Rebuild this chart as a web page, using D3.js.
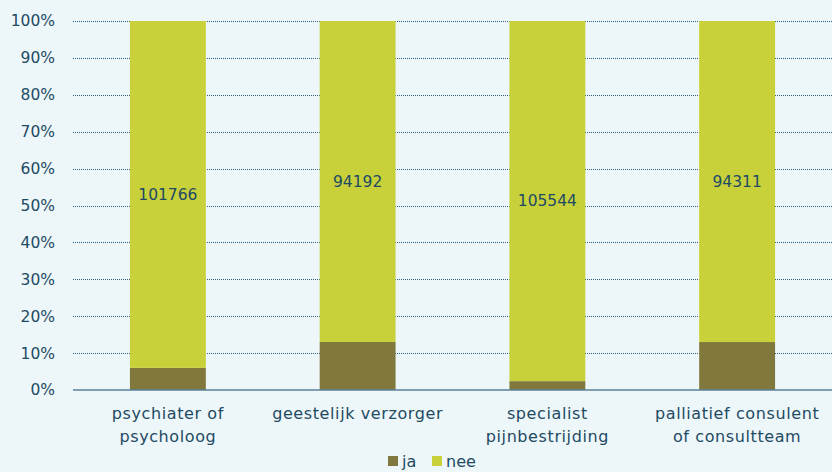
<!DOCTYPE html>
<html>
<head>
<meta charset="utf-8">
<script src="https://cdn.jsdelivr.net/npm/d3@7"></script>
<style>
  body { margin: 0; background: #edf7f9; }
  svg { display: block; font-family: 'DejaVu Sans', sans-serif; }
</style>
</head>
<body>
<svg id="chart"></svg>
<script>
const categories = ['psychiater of\npsycholoog', 'geestelijk verzorger', 'specialist\npijnbestrijding', 'palliatief consulent\nof consultteam'];
const ja = [6500, 14080, 2600, 14090];
const nee = [101766, 94192, 105544, 94311];
const yTicks = [0, 0.1, 0.2, 0.3, 0.4, 0.5, 0.6, 0.7, 0.8, 0.9, 1];
const seriesNames = ['ja', 'nee'];

const width = 832;
const height = 472;
const margin = { top: 21, right: 0, bottom: 82, left: 73 };
const textColor = '#1e4a63';
const color = d3.scaleOrdinal(seriesNames, ['#80783c', '#c8d13a']);

const rows = categories.map((c, i) => {
  const total = ja[i] + nee[i];
  return { cat: c, ja: ja[i] / total, nee: nee[i] / total, neeCount: nee[i] };
});

const stack = d3.stack().keys(seriesNames);
const series = stack(rows);

const x = d3.scaleBand()
  .domain(categories)
  .range([margin.left, width - margin.right])
  .paddingInner(0.6)
  .paddingOuter(0.3);

const y = d3.scaleLinear()
  .domain([0, 1])
  .range([height - margin.bottom, margin.top]);

const svg = d3.select('#chart')
  .attr('width', width)
  .attr('height', height);

// gridlines
svg.append('g')
  .selectAll('line')
  .data(yTicks.filter(d => d > 0))
  .join('line')
  .attr('x1', margin.left)
  .attr('x2', width - margin.right)
  .attr('y1', d => Math.round(y(d)) + 0.5)
  .attr('y2', d => Math.round(y(d)) + 0.5)
  .attr('stroke', '#2f5f80')
  .attr('stroke-width', 1)
  .attr('stroke-dasharray', '1,1');

// y axis labels
svg.append('g')
  .attr('font-size', 15.5)
  .attr('fill', textColor)
  .attr('text-anchor', 'end')
  .selectAll('text')
  .data(yTicks)
  .join('text')
  .attr('x', 55)
  .attr('y', d => y(d))
  .attr('dy', '0.35em')
  .text(d3.format('.0%'));

// bars
svg.append('g')
  .selectAll('g')
  .data(series)
  .join('g')
  .attr('fill', d => color(d.key))
  .selectAll('rect')
  .data(d => d)
  .join('rect')
  .attr('x', d => x(d.data.cat))
  .attr('width', x.bandwidth())
  .attr('y', d => y(d[1]))
  .attr('height', d => y(d[0]) - y(d[1]));

// baseline
svg.append('line')
  .attr('x1', margin.left)
  .attr('x2', width - margin.right)
  .attr('y1', y(0))
  .attr('y2', y(0))
  .attr('stroke', '#5b8196')
  .attr('stroke-width', 1.5);

// value labels (nee)
svg.append('g')
  .attr('font-size', 15.5)
  .attr('fill', textColor)
  .attr('text-anchor', 'middle')
  .selectAll('text')
  .data(series[1])
  .join('text')
  .attr('x', d => x(d.data.cat) + x.bandwidth() / 2)
  .attr('y', d => (y(d[0]) + y(d[1])) / 2)
  .attr('dy', '0.35em')
  .text(d => d.data.neeCount);

// category labels
svg.append('g')
  .attr('font-size', 16)
  .attr('letter-spacing', 0.6)
  .attr('fill', textColor)
  .attr('text-anchor', 'middle')
  .selectAll('text')
  .data(categories)
  .join('text')
  .attr('x', d => x(d) + x.bandwidth() / 2)
  .attr('y', 419)
  .selectAll('tspan')
  .data(d => d.split('\n'))
  .join('tspan')
  .attr('x', function () { return d3.select(this.parentNode).attr('x'); })
  .attr('dy', (d, i) => i === 0 ? 0 : 23)
  .text(d => d);

// legend
const legend = svg.append('g')
  .attr('font-size', 16)
  .attr('fill', textColor);
const legendX = [388, 432];
seriesNames.forEach((name, i) => {
  legend.append('rect')
    .attr('x', legendX[i])
    .attr('y', 456)
    .attr('width', 10)
    .attr('height', 10)
    .attr('fill', color(name));
  legend.append('text')
    .attr('x', legendX[i] + 14)
    .attr('y', 467)
    .text(name);
});
</script>
</body>
</html>
